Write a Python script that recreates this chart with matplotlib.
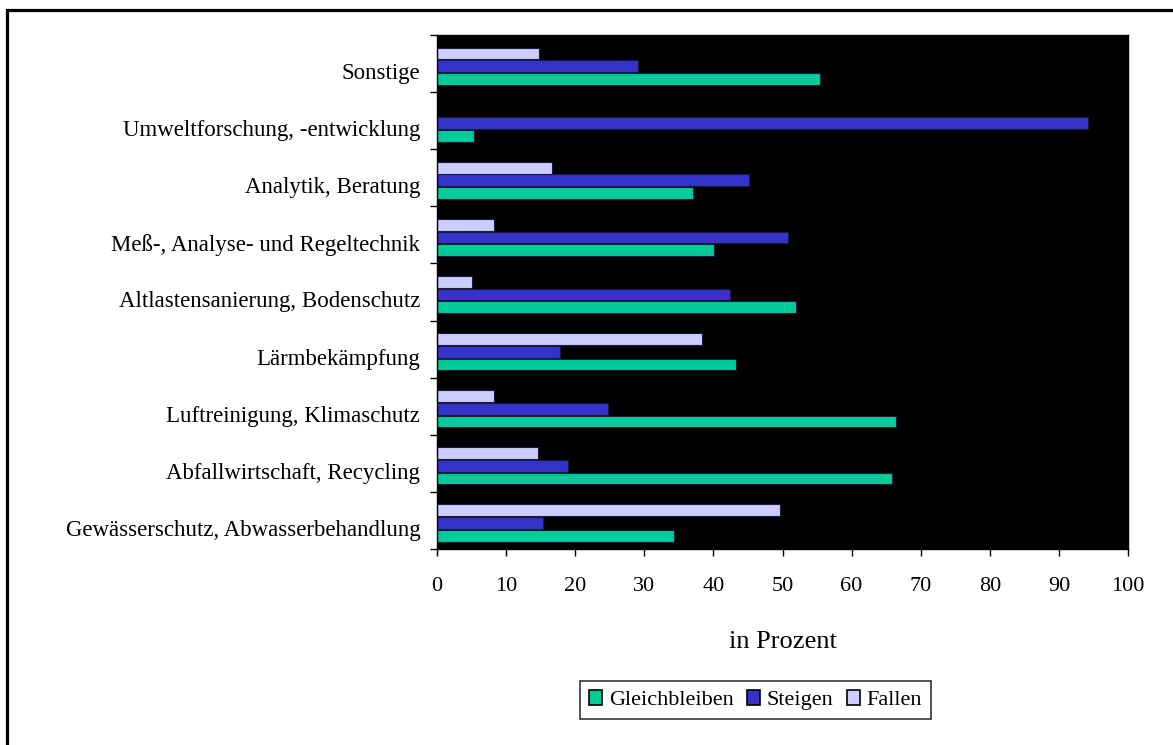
import matplotlib
matplotlib.use("Agg")
import matplotlib.pyplot as plt
import numpy as np
from matplotlib.patches import Rectangle

plt.rcParams['font.family'] = ['Liberation Serif', 'DejaVu Serif']

categories = [
    "Gewässerschutz, Abwasserbehandlung",
    "Abfallwirtschaft, Recycling",
    "Luftreinigung, Klimaschutz",
    "Lärmbekämpfung",
    "Altlastensanierung, Bodenschutz",
    "Meß-, Analyse- und Regeltechnik",
    "Analytik, Beratung",
    "Umweltforschung, -entwicklung",
    "Sonstige",
]
gleichbleiben = [34.3, 65.8, 66.4, 43.2, 51.9, 40.1, 37.1, 5.3, 55.4]
steigen = [15.4, 18.9, 24.7, 17.8, 42.4, 50.8, 45.2, 94.2, 29.1]
fallen = [49.6, 14.6, 8.2, 38.3, 5.0, 8.2, 16.6, 0.0, 14.7]
series_names = ["Gleichbleiben", "Steigen", "Fallen"]
colors = ["#00CC99", "#3333CC", "#CCCCFF"]
xticks = [0, 10, 20, 30, 40, 50, 60, 70, 80, 90, 100]

W, H = 1173, 745
fig = plt.figure(figsize=(W / 100, H / 100), dpi=100)
ax = fig.add_axes([437 / W, 1 - 549 / H, (1128 - 437) / W, (549 - 35) / H])
ax.set_facecolor("black")

y = np.arange(len(categories))
pitch = 0.222
bh = 0.205
shift = -0.045
offsets = [-pitch, 0.0, pitch]
handles = []
for vals, off, col, name in zip([gleichbleiben, steigen, fallen], offsets, colors, series_names):
    b = ax.barh(y + off + shift, vals, height=bh, color=col, edgecolor="#1a1a3a", linewidth=0.8, label=name)
    handles.append(b)

ax.set_xlim(0, 100)
ax.set_ylim(-0.5, len(categories) - 0.5)
ax.set_xticks(xticks)
ax.set_xticklabels([str(t) for t in xticks], fontsize=16)
ax.tick_params(axis='x', direction='out', length=5, width=1, pad=15)

ax.set_yticks(np.arange(-0.5, len(categories), 1.0))
ax.set_yticklabels([])
ax.tick_params(axis='y', which='major', direction='out', length=5, width=1)
ax.set_yticks(y - 0.13, minor=True)
ax.set_yticklabels(categories, minor=True, fontsize=16.5)
ax.tick_params(axis='y', which='minor', length=0, pad=12)

for s in ax.spines.values():
    s.set_color("black")
    s.set_linewidth(1)

ax.set_xlabel("in Prozent", fontsize=19, labelpad=25)

leg = fig.legend(handles=handles, labels=series_names, loc='center',
                 bbox_to_anchor=(755.5 / W, 1 - 700 / H), ncol=3, fontsize=16,
                 frameon=True, fancybox=False, edgecolor="black",
                 handlelength=0.6, handleheight=0.7, handletextpad=0.3,
                 columnspacing=0.6, borderpad=0.4, borderaxespad=0)
leg.get_frame().set_linewidth(1.2)
for p in leg.get_patches():
    p.set_edgecolor("black")
    p.set_linewidth(1.2)

# outer frame (top and left visible)
fig.add_artist(Rectangle((7 / W, -0.2), 1.5, (1 - 10 / H) + 0.2, transform=fig.transFigure,
                         fill=False, edgecolor="black", linewidth=2.3, clip_on=False))

fig.savefig("out.png", dpi=100, facecolor="white")
